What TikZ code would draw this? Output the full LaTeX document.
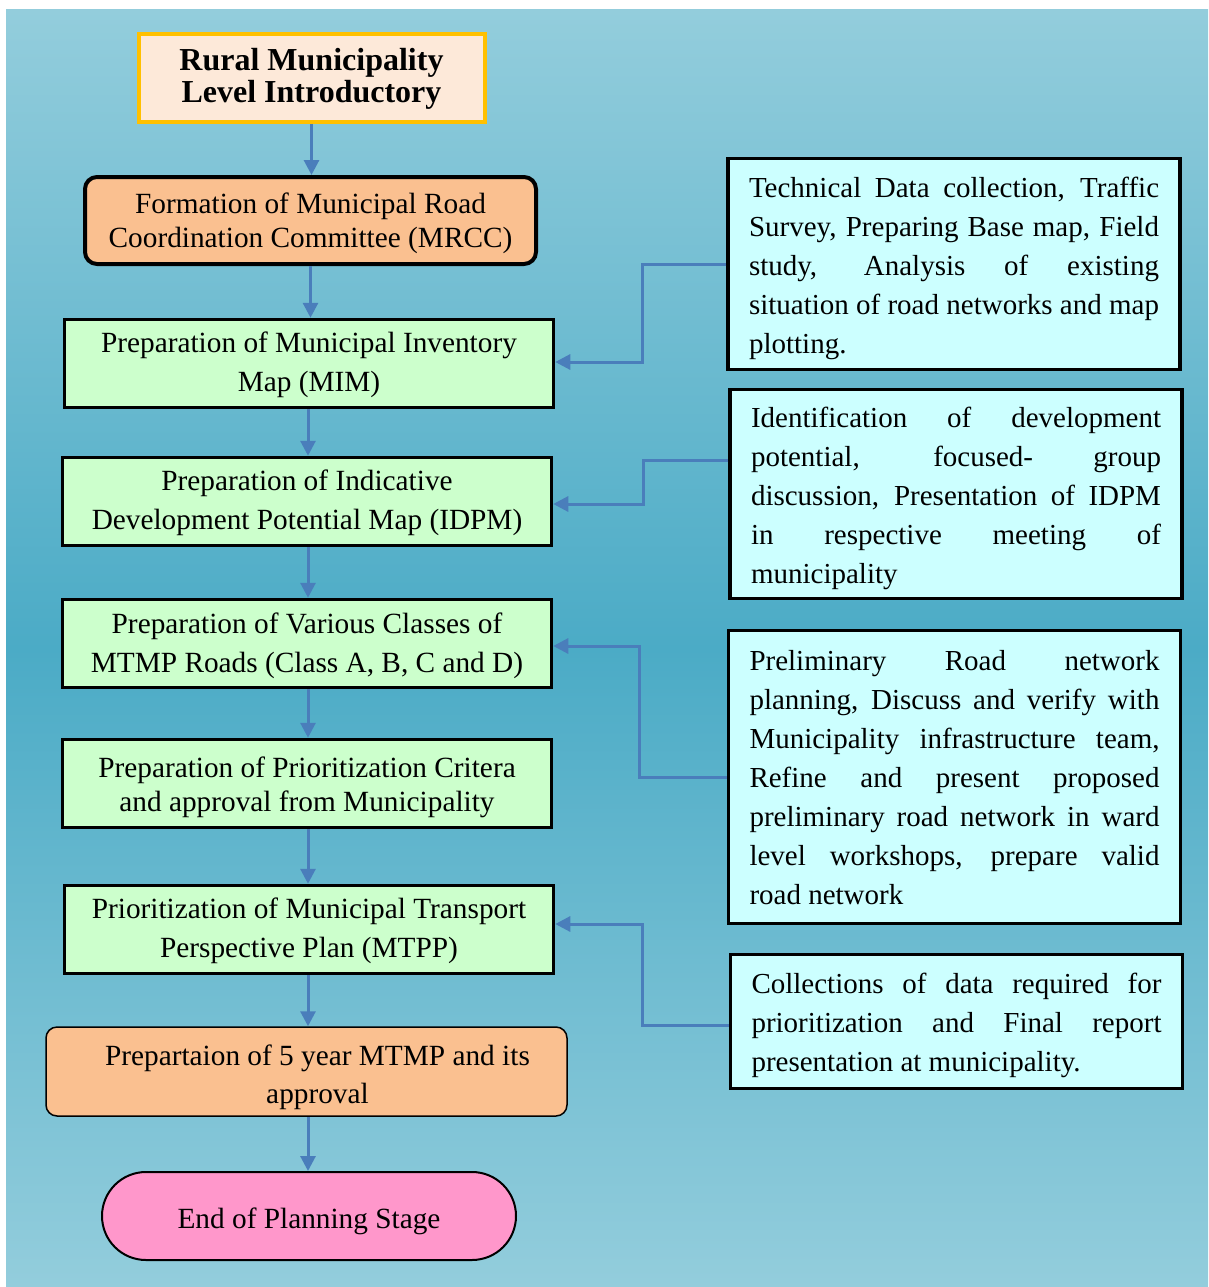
\documentclass[tikz,border=0pt]{standalone}
\usepackage{fontspec}
\setmainfont{Liberation Serif}
\usetikzlibrary{arrows.meta,shapes.misc}
\definecolor{bgl}{HTML}{93CDDC}
\definecolor{bgd}{HTML}{4BABC6}
\definecolor{titlefill}{HTML}{FDE9D9}
\definecolor{titledraw}{HTML}{FFC000}
\definecolor{peach}{HTML}{FAC090}
\definecolor{lgreen}{HTML}{CCFFCC}
\definecolor{lcyan}{HTML}{CCFFFF}
\definecolor{pinkend}{HTML}{FF97CB}
\definecolor{conncol}{HTML}{4A7EBB}
\newcommand{\jl}[1]{\hbox to 410pt{\spaceskip=0.25em plus 1fil minus 0.12em\xspaceskip=\spaceskip #1}}
\newcommand{\cstack}[2][0pt]{\raisebox{-#1}[\height][\depth]{\begin{tabular}{@{}c@{}}#2\end{tabular}}}
\newcommand{\lstack}[2][0pt]{\raisebox{-#1}[\height][\depth]{\begin{tabular}{@{}l@{}}#2\end{tabular}}}
\begin{document}
\begin{tikzpicture}[x=1pt,y=-1pt,
  title/.style={draw=titledraw, line width=4pt, fill=titlefill, minimum width=346pt, minimum height=88pt, inner sep=0pt, font=\bfseries\fontsize{32}{32}\selectfont},
  peachbox/.style={draw=black, fill=peach, inner sep=0pt, font=\fontsize{29.3}{34}\selectfont},
  greenbox/.style={draw=black, line width=3.5pt, fill=lgreen, minimum width=489pt, minimum height=88pt, inner sep=0pt, font=\fontsize{29.3}{39}\selectfont},
  sidebox/.style={draw=black, line width=3.5pt, fill=lcyan, minimum width=452pt, inner sep=0pt, font=\fontsize{29}{39}\selectfont},
  endbox/.style={rounded rectangle, draw=black, line width=2pt, fill=pinkend, minimum width=414pt, minimum height=88pt, inner sep=0pt, font=\fontsize{29.3}{34}\selectfont},
  conn/.style={draw=conncol, line width=3pt, -{Triangle[length=15pt,width=15pt]}}
]
\useasboundingbox (0,0) rectangle (1208,1287);
\shade[top color=bgl, bottom color=bgl, middle color=bgd] (6,10) rectangle (1208,1287);

\node[title] (t) at (311.5,78) {\cstack[2pt]{Rural Municipality\\Level Introductory}};
\node[peachbox, line width=4pt, rounded corners=12pt, minimum width=451pt, minimum height=87pt] (mrcc) at (310.5,220.5) {\cstack[3pt]{Formation of Municipal Road\\Coordination Committee (MRCC)}};
\node[greenbox] (mim) at (309,363.5) {\cstack[1pt]{Preparation of Municipal Inventory\\Map (MIM)}};
\node[greenbox] (idpm) at (307,501.5) {\cstack[1pt]{Preparation of Indicative\\Development Potential Map (IDPM)}};
\node[greenbox] (cls) at (307,643.5) {\cstack[1.5pt]{Preparation of Various Classes of\\MTMP Roads (Class A, B, C and D)}};
\node[greenbox, font=\fontsize{29.3}{34}\selectfont] (crit) at (307,783.5) {\cstack[4pt]{Preparation of Prioritization Critera\\and approval from Municipality}};
\node[greenbox] (mtpp) at (309,929.5) {\cstack[1pt]{Prioritization of Municipal Transport\\Perspective Plan (MTPP)}};
\node[peachbox, line width=1.5pt, rounded corners=11pt, minimum width=521pt, minimum height=89pt, font=\fontsize{29.3}{38}\selectfont] (five) at (306.5,1071.5) {\cstack[5pt]{\hspace*{22pt}Prepartaion of 5 year MTMP and its\\\hspace*{22pt}approval}};
\node[endbox] (end) at (309,1216) {\raisebox{-5pt}[\height][\depth]{End of Planning Stage}};

\node[sidebox, minimum height=211pt] (A) at (954,264) {\lstack[3.5pt]{\jl{Technical Data collection, Traffic}\\\jl{Survey, Preparing Base map, Field}\\\jl{study, Analysis of existing}\\\jl{situation of road networks and map}\\plotting.}};
\node[sidebox, minimum height=209pt] (B) at (956,494) {\lstack[3.5pt]{\jl{Identification of development}\\\jl{potential, focused- group}\\\jl{discussion, Presentation of IDPM}\\\jl{in respective meeting of}\\municipality}};
\node[sidebox, minimum height=293pt] (C) at (954.5,777) {\lstack[2.5pt]{\jl{Preliminary Road network}\\\jl{planning, Discuss and verify with}\\\jl{Municipality infrastructure team,}\\\jl{Refine and present proposed}\\\jl{preliminary road network in ward}\\\jl{level workshops, prepare valid}\\road network}};
\node[sidebox, minimum height=134pt] (D) at (956.5,1021.5) {\lstack[3pt]{\jl{Collections of data required for}\\\jl{prioritization and Final report}\\presentation at municipality.}};

\draw[conn] (t.south) -- (t.south |- mrcc.north);
\draw[conn] (mrcc.south) -- (mrcc.south |- mim.north);
\draw[conn] ([xshift=-1pt]mim.south) -- ([xshift=-1pt]mim.south |- idpm.north);
\draw[conn] ([xshift=1pt]idpm.south) -- ([xshift=1pt]idpm.south |- cls.north);
\draw[conn] ([xshift=1pt]cls.south) -- ([xshift=1pt]cls.south |- crit.north);
\draw[conn] ([xshift=1pt]crit.south) -- ([xshift=1pt]crit.south |- mtpp.north);
\draw[conn] ([xshift=-1pt]mtpp.south) -- ([xshift=-1pt]mtpp.south |- five.north);
\draw[conn] ([xshift=1.5pt]five.south) -- ([xshift=1.5pt]five.south |- end.north);

\draw[conn] (A.west) -- ++(-84,0) |- ([yshift=1.5pt]mim.east);
\draw[conn] ([yshift=34pt]B.west) -- ++(-85,0) |- ([yshift=-2.5pt]idpm.east);
\draw[conn] (C.west) -- ++(-87,0) |- ([yshift=-2.5pt]cls.east);
\draw[conn] ([yshift=-3.5pt]D.west) -- ++(-86,0) |- ([yshift=5.5pt]mtpp.east);
\end{tikzpicture}
\end{document}
